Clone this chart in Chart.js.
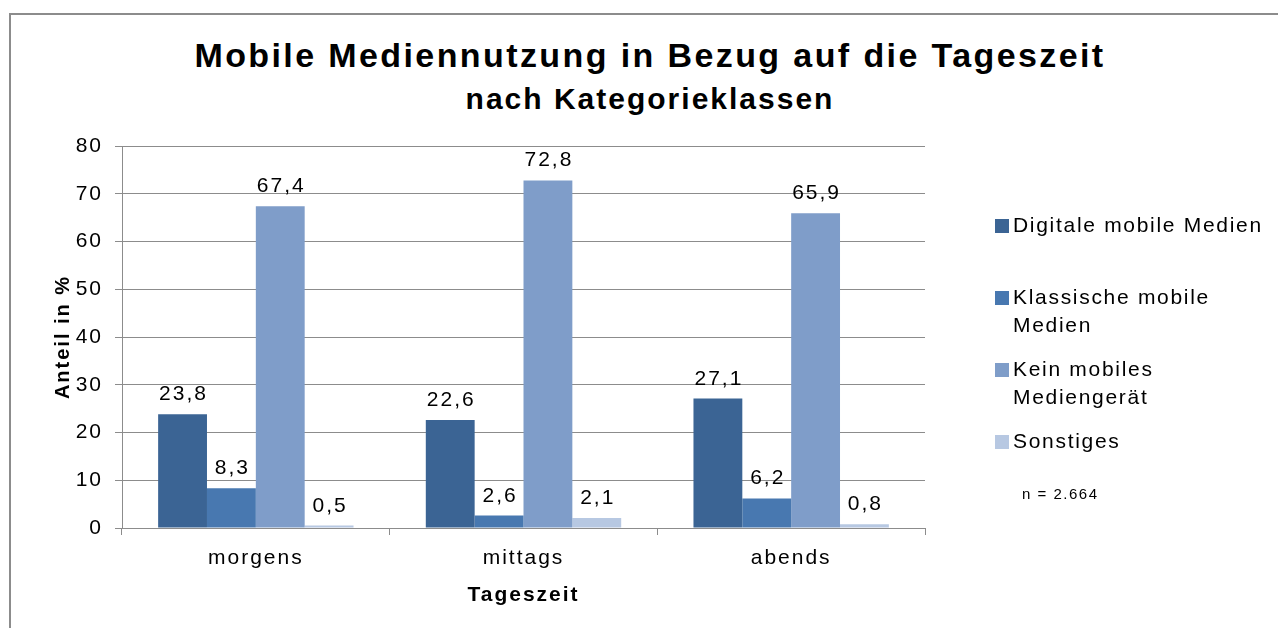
<!DOCTYPE html>
<html>
<head>
<meta charset="utf-8">
<script src="https://cdn.jsdelivr.net/npm/chart.js@4/dist/chart.umd.min.js"></script>
<style>
    body { margin: 0; background: #fff; font-family: "Liberation Sans", Arial, sans-serif; }
    #wrap { position: relative; width: 1278px; height: 628px; overflow: hidden; }
    #frame { position: absolute; left: 9px; top: 13px; width: 1320px; height: 700px; border: 2px solid #8c8c8c; }
    #chart { position: absolute; left: 0; top: 0; }
    .title { position: absolute; left: 0; width: 1300px; text-align: center; font-weight: bold; color: #000; }
    #legend { position: absolute; left: 995px; top: 211px; font-size: 21px; color: #000; letter-spacing: 1.7px; }
    .item { position: absolute; left: 0; width: 290px; line-height: 28px; }
    .box { position: absolute; left: 0; top: 8px; width: 14px; height: 14px; }
    .lab { position: absolute; left: 18px; top: 0; white-space: nowrap; }
    #note { position: absolute; left: 1022px; top: 485px; font-size: 15px; color: #000; letter-spacing: 1.5px; }
</style>
</head>
<body>
<div id="wrap">
    <div id="frame"></div>
    <div class="title" style="top:36px; font-size:34px; letter-spacing:2.4px;">Mobile Mediennutzung in Bezug auf die Tageszeit</div>
    <div class="title" style="top:82px; font-size:30px; letter-spacing:2px;">nach Kategorieklassen</div>
    <canvas id="chart" width="1278" height="628"></canvas>
    <div id="legend"></div>
    <div id="note">n = 2.664</div>
</div>
<script>
// Chart data
const categories = ['morgens', 'mittags', 'abends'];
const seriesNames = ['Digitale mobile Medien', 'Klassische mobile Medien', 'Kein mobiles Mediengerät', 'Sonstiges'];
const legendLines = [['Digitale mobile Medien'], ['Klassische mobile', 'Medien'], ['Kein mobiles', 'Mediengerät'], ['Sonstiges']];
const digitale = [23.8, 22.6, 27.1];
const klassische = [8.3, 2.6, 6.2];
const keinGeraet = [67.4, 72.8, 65.9];
const sonstiges = [0.5, 2.1, 0.8];
const yTicks = [0, 10, 20, 30, 40, 50, 60, 70, 80];

const colors = ['#3b6494', '#4878b0', '#7f9dc9', '#b7c8e2'];
const legendTops = [0, 72, 144, 216];
const FONT = '"Liberation Sans", Arial, sans-serif';

// Legend in HTML so the wrapped labels sit like the original
const legendEl = document.getElementById('legend');
legendLines.forEach((lines, i) => {
    const item = document.createElement('div');
    item.className = 'item';
    item.style.top = legendTops[i] + 'px';
    item.innerHTML = '<div class="box" style="background:' + colors[i] + '"></div>' +
        '<div class="lab">' + lines.join('<br>') + '</div>';
    legendEl.appendChild(item);
});

// The original text is rendered a bit wide, so space the canvas letters out
const wideText = {
    id: 'wideText',
    beforeLayout(chart) { chart.ctx.letterSpacing = '2px'; },
    beforeDraw(chart) { chart.ctx.letterSpacing = '2px'; }
};

// Value labels above each bar, German decimal comma
const valueLabels = {
    id: 'valueLabels',
    afterDatasetsDraw(chart) {
        const ctx = chart.ctx;
        ctx.save();
        ctx.font = '21px ' + FONT;
        ctx.fillStyle = '#000';
        ctx.textAlign = 'center';
        ctx.textBaseline = 'alphabetic';
        chart.data.datasets.forEach((ds, i) => {
            chart.getDatasetMeta(i).data.forEach((bar, j) => {
                const txt = ds.data[j].toFixed(1).replace('.', ',');
                ctx.fillText(txt, bar.x + 1, bar.y - 14);
            });
        });
        ctx.restore();
    }
};

const seriesValues = [digitale, klassische, keinGeraet, sonstiges];

new Chart(document.getElementById('chart'), {
    type: 'bar',
    data: {
        labels: categories,
        datasets: seriesValues.map((vals, i) => ({
            label: seriesNames[i],
            data: vals,
            backgroundColor: colors[i],
            borderWidth: 0,
            barPercentage: 1,
            categoryPercentage: 0.73
        }))
    },
    options: {
        responsive: false,
        animation: false,
        layout: { padding: { left: 47, top: 146, right: 353, bottom: 20 } },
        plugins: {
            legend: { display: false },
            tooltip: { enabled: false }
        },
        scales: {
            x: {
                offset: true,
                afterFit: (axis) => { axis.height = 80; },
                grid: { display: true, offset: true, drawOnChartArea: false, tickLength: 7, color: '#8c8c8c' },
                border: { color: '#8c8c8c' },
                ticks: { color: '#000', font: { size: 21, family: FONT }, padding: 11 },
                title: { display: true, text: 'Tageszeit', color: '#000', font: { size: 21, weight: 'bold', family: FONT }, padding: { top: 4, bottom: 0 } }
            },
            y: {
                min: 0,
                max: 80,
                afterFit: (axis) => { axis.width = 75; },
                afterBuildTicks: (axis) => { axis.ticks = yTicks.map(v => ({ value: v })); },
                grid: { color: '#8c8c8c', tickLength: 7 },
                border: { color: '#8c8c8c' },
                ticks: { color: '#000', font: { size: 21, family: FONT }, padding: 12 },
                title: { display: true, text: 'Anteil in %', color: '#000', font: { size: 20, weight: 'bold', family: FONT } }
            }
        }
    },
    plugins: [wideText, valueLabels]
});
</script>
</body>
</html>
